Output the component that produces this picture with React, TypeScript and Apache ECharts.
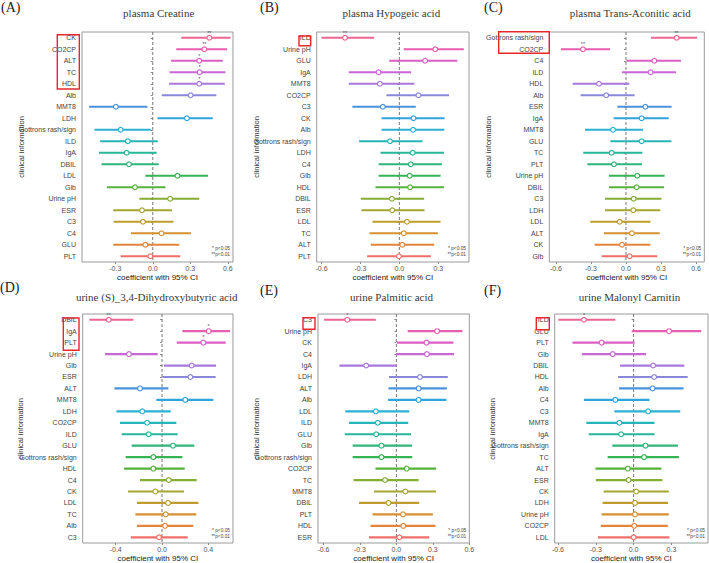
import React, { useEffect, useRef } from "react";
import * as echarts from "echarts";

// ---------- Data (top row to bottom row of each panel) ----------
const labelsA = ["CK", "CO2CP", "ALT", "TC", "HDL", "Alb", "MMT8", "LDH", "Gottrons rash/sign", "ILD", "IgA", "DBIL", "LDL", "Glb", "Urine pH", "ESR", "C3", "C4", "GLU", "PLT"];
const estA = [0.453, 0.413, 0.372, 0.375, 0.372, 0.303, -0.295, 0.273, -0.257, -0.2, -0.209, -0.19, 0.198, -0.142, 0.139, -0.086, -0.078, 0.07, -0.059, -0.019];
const loA = [0.228, 0.188, 0.147, 0.134, 0.131, 0.072, -0.509, 0.038, -0.466, -0.42, -0.43, -0.41, -0.059, -0.367, -0.107, -0.316, -0.313, -0.174, -0.316, -0.257];
const hiA = [0.622, 0.595, 0.56, 0.581, 0.576, 0.509, -0.043, 0.48, -0.016, 0.04, 0.032, 0.048, 0.442, 0.102, 0.372, 0.153, 0.166, 0.305, 0.212, 0.22];
const sigA = ["**", "**", "*", "*", "*", "", "", "", "", "", "", "", "", "", "", "", "", "", "", ""];

const labelsB = ["ILD", "Urine pH", "GLU", "IgA", "MMT8", "CO2CP", "C3", "CK", "Alb", "Gottrons rash/sign", "LDH", "C4", "Glb", "HDL", "DBIL", "ESR", "LDL", "TC", "ALT", "PLT"];
const estB = [-0.419, 0.277, 0.199, -0.16, -0.15, 0.147, -0.127, 0.109, 0.106, -0.072, 0.103, 0.088, 0.08, 0.083, -0.057, -0.054, 0.059, 0.034, 0.023, -0.003];
const loB = [-0.6, 0.034, -0.078, -0.39, -0.39, -0.1, -0.362, -0.137, -0.137, -0.31, -0.145, -0.16, -0.16, -0.184, -0.297, -0.292, -0.207, -0.23, -0.22, -0.248];
const hiB = [-0.194, 0.497, 0.447, 0.09, 0.116, 0.383, 0.127, 0.349, 0.347, 0.178, 0.344, 0.328, 0.318, 0.344, 0.191, 0.194, 0.318, 0.297, 0.269, 0.243];
const sigB = ["**", "", "", "", "", "", "", "", "", "", "", "", "", "", "", "", "", "", "", ""];

const labelsC = ["Gottrons rash/sign", "CO2CP", "C4", "ILD", "HDL", "Alb", "ESR", "IgA", "MMT8", "GLU", "TC", "PLT", "Urine pH", "DBIL", "C3", "LDH", "LDL", "ALT", "CK", "Glb"];
const estC = [0.434, -0.369, 0.243, 0.211, -0.231, -0.169, 0.166, 0.134, -0.111, 0.134, -0.123, -0.103, 0.097, 0.091, 0.066, 0.063, -0.054, 0.051, -0.034, 0.031];
const loC = [0.214, -0.557, 0.003, -0.034, -0.457, -0.389, -0.074, -0.106, -0.351, -0.134, -0.366, -0.331, -0.146, -0.146, -0.18, -0.18, -0.306, -0.189, -0.269, -0.209];
const hiC = [0.609, -0.137, 0.471, 0.429, 0.029, 0.074, 0.391, 0.366, 0.146, 0.389, 0.14, 0.137, 0.331, 0.326, 0.303, 0.294, 0.209, 0.289, 0.209, 0.269];
const sigC = ["**", "**", "", "", "", "", "", "", "", "", "", "", "", "", "", "", "", "", "", ""];

const labelsD = ["DBIL", "IgA", "PLT", "Urine pH", "Glb", "ESR", "ALT", "MMT8", "LDH", "CO2CP", "ILD", "GLU", "Gottrons rash/sign", "HDL", "C4", "CK", "LDL", "TC", "Alb", "C3"];
const estD = [-0.46, 0.403, 0.357, -0.285, 0.256, 0.245, -0.19, 0.201, -0.17, -0.129, -0.115, 0.095, -0.075, -0.075, 0.058, -0.058, 0.052, 0.032, 0.026, -0.026];
const loD = [-0.627, 0.176, 0.127, -0.492, 0.017, 0.003, -0.411, -0.049, -0.394, -0.363, -0.348, -0.262, -0.314, -0.328, -0.19, -0.294, -0.216, -0.23, -0.216, -0.27];
const hiD = [-0.247, 0.587, 0.55, -0.037, 0.466, 0.463, 0.055, 0.443, 0.075, 0.124, 0.135, 0.279, 0.176, 0.196, 0.299, 0.19, 0.314, 0.296, 0.27, 0.222];
const sigD = ["**", "*", "*", "", "", "", "", "", "", "", "", "", "", "", "", "", "", "", "", ""];

const labelsE = ["C3", "Urine pH", "CK", "C4", "IgA", "LDH", "ALT", "Alb", "LDL", "ILD", "GLU", "Glb", "Gottrons rash/sign", "CO2CP", "TC", "MMT8", "DBIL", "PLT", "HDL", "ESR"];
const estE = [-0.404, 0.335, 0.248, 0.251, -0.248, 0.194, 0.183, 0.183, -0.169, -0.153, -0.166, -0.123, -0.123, 0.085, -0.093, 0.074, -0.065, 0.055, 0.057, 0.025];
const loE = [-0.595, 0.093, 0.005, -0.003, -0.469, -0.06, -0.065, -0.068, -0.42, -0.39, -0.425, -0.36, -0.36, -0.172, -0.352, -0.185, -0.308, -0.196, -0.213, -0.226];
const hiE = [-0.169, 0.543, 0.469, 0.475, 0.003, 0.423, 0.415, 0.412, 0.106, 0.098, 0.12, 0.128, 0.131, 0.327, 0.183, 0.325, 0.188, 0.3, 0.322, 0.27];
const sigE = ["*", "", "", "", "", "", "", "", "", "", "", "", "", "", "", "", "", "", "", ""];

const labelsF = ["ILD", "GLU", "PLT", "Glb", "DBIL", "HDL", "Alb", "C4", "C3", "MMT8", "IgA", "Gottrons rash/sign", "TC", "ALT", "ESR", "CK", "LDH", "Urine pH", "CO2CP", "LDL"];
const estF = [-0.394, 0.281, -0.254, -0.166, 0.155, 0.163, 0.15, -0.145, 0.115, -0.113, -0.099, 0.094, 0.083, -0.046, -0.04, 0.021, 0.011, 0.011, 0.005, 0.0];
const loF = [-0.597, -0.011, -0.485, -0.41, -0.107, -0.123, -0.115, -0.394, -0.153, -0.375, -0.356, -0.169, -0.206, -0.303, -0.3, -0.238, -0.246, -0.254, -0.26, -0.284];
const hiF = [-0.145, 0.536, 0.008, 0.099, 0.402, 0.429, 0.396, 0.126, 0.37, 0.166, 0.166, 0.351, 0.359, 0.22, 0.228, 0.279, 0.273, 0.279, 0.271, 0.284];
const sigF = ["*", "", "", "", "", "", "", "", "", "", "", "", "", "", "", "", "", "", "", ""];

const titles = [
  "plasma Creatine",
  "plasma Hypogeic acid",
  "plasma Trans-Aconitic acid",
  "urine (S)_3,4-Dihydroxybutyric acid",
  "urine Palmitic acid",
  "urine Malonyl Carnitin",
];
const panelTags = ["(A)", "(B)", "(C)", "(D)", "(E)", "(F)"];
const ticksA = [-0.3, 0, 0.3, 0.6];
const ticksB = [-0.6, -0.3, 0, 0.3];
const ticksC = [-0.6, -0.3, 0, 0.3, 0.6];
const ticksD = [-0.4, 0, 0.4];
const ticksE = [-0.6, -0.3, 0, 0.3, 0.6];
const ticksF = [-0.6, -0.3, 0, 0.3];

// row colours, top row to bottom row
const palette = [
  "#EC6690", "#E85EAE", "#DC5EC4", "#C866D4", "#A977DB", "#8A87DB", "#4A93DC", "#2EA5DE", "#2AB1D3", "#26B5B8",
  "#26B69A", "#2EB57A", "#37B353", "#55B23A", "#86AD35", "#A5A531", "#BE9C2E", "#D5922F", "#E5843A", "#EE6F69",
];

// ---------- layout ----------
const layout = [
  { left: 82, width: 151, top: 32, height: 230, min: -0.566, max: 0.642 },
  { left: 316.7, width: 152.3, top: 32, height: 230, min: -0.637, max: 0.537 },
  { left: 549.3, width: 155, top: 32, height: 230, min: -0.657, max: 0.671 },
  { left: 82.7, width: 150.3, top: 314, height: 230, min: -0.685, max: 0.613 },
  { left: 318, width: 151.3, top: 314, height: 230, min: -0.645, max: 0.6 },
  { left: 554.7, width: 153.3, top: 314, height: 230, min: -0.626, max: 0.59 },
];
const tagPos = [[1, 7], [260, 7], [484, 7], [0, 287], [260, 290], [484, 290]];
const titlePos = [[158.7, 13.3], [391.3, 13.3], [630.3, 12.5], [156.7, 297.3], [391.5, 297.3], [629.5, 297.3]];
const yNamePos = [[21.7, 147], [256.7, 147], [488.7, 147], [20.7, 429], [256.7, 429], [492.7, 429]];
const redBoxes = [
  [57.3, 34.7, 22, 54.3],
  [299, 36, 11.7, 9.7],
  [498.7, 31.7, 50.6, 21.6],
  [63.3, 318, 15.7, 32.3],
  [303, 317.7, 12, 11.6],
  [536.3, 317.7, 13, 12],
];

const FONT = "Liberation Sans";
const SERIF = "Liberation Serif";

export default function App() {
  const ref = useRef<HTMLDivElement>(null);

  useEffect(() => {
    if (!ref.current) return;
    const chart = echarts.init(ref.current, null, { renderer: "svg" });

    const panels = [
      { labels: labelsA, est: estA, lo: loA, hi: hiA, sig: sigA, ticks: ticksA },
      { labels: labelsB, est: estB, lo: loB, hi: hiB, sig: sigB, ticks: ticksB },
      { labels: labelsC, est: estC, lo: loC, hi: hiC, sig: sigC, ticks: ticksC },
      { labels: labelsD, est: estD, lo: loD, hi: hiD, sig: sigD, ticks: ticksD },
      { labels: labelsE, est: estE, lo: loE, hi: hiE, sig: sigE, ticks: ticksE },
      { labels: labelsF, est: estF, lo: loF, hi: hiF, sig: sigF, ticks: ticksF },
    ];

    const grids: any[] = [];
    const xAxes: any[] = [];
    const yAxes: any[] = [];
    const series: any[] = [];
    const graphics: any[] = [];

    panels.forEach((p, i) => {
      const L = layout[i];
      grids.push({
        left: L.left,
        top: L.top,
        width: L.width,
        height: L.height,
        show: true,
        borderColor: "#9a9a9a",
        borderWidth: 1,
        backgroundColor: "transparent",
      });
      xAxes.push({
        gridIndex: i,
        type: "value",
        min: L.min,
        max: L.max,
        splitLine: { show: false },
        axisLine: { show: false },
        axisTick: { show: true, customValues: p.ticks, length: 2, lineStyle: { color: "#8a8a8a" } },
        axisLabel: {
          customValues: p.ticks,
          fontSize: 7,
          color: "#555",
          margin: 3,
          fontFamily: FONT,
          formatter: (v: number) => v.toFixed(1),
        },
        name: "coefficient with 95% CI",
        nameLocation: "middle",
        nameGap: 11,
        nameTextStyle: { fontSize: 8, color: "#222", fontFamily: FONT, fontWeight: "normal" },
      });
      yAxes.push({
        gridIndex: i,
        type: "category",
        data: p.labels,
        inverse: true,
        axisLine: { show: false },
        axisTick: { show: true, alignWithLabel: true, length: 2, lineStyle: { color: "#8a8a8a" } },
        axisLabel: { fontSize: 7, color: "#444", margin: 6, interval: 0, fontFamily: FONT },
        splitLine: { show: false },
      });

      // dashed zero reference line
      series.push({
        type: "custom",
        xAxisIndex: i,
        yAxisIndex: i,
        silent: true,
        z: 1,
        data: [[0, 0]],
        renderItem: (params: any, api: any) => {
          const cs = params.coordSys;
          const x = api.coord([0, 0])[0];
          return {
            type: "line",
            shape: { x1: x, y1: cs.y, x2: x, y2: cs.y + cs.height },
            style: { stroke: "#777", lineWidth: 1, lineDash: [3, 2] },
          };
        },
      });

      // forest rows
      const rows = p.labels.map((_, r) => [p.est[r], r, p.lo[r], p.hi[r]]);
      series.push({
        type: "custom",
        xAxisIndex: i,
        yAxisIndex: i,
        silent: true,
        z: 2,
        encode: { x: [0, 2, 3], y: 1 },
        data: rows,
        renderItem: (params: any, api: any) => {
          const r = params.dataIndex;
          const color = palette[r];
          const pe = api.coord([api.value(0), r]);
          const pl = api.coord([api.value(2), r]);
          const ph = api.coord([api.value(3), r]);
          const children: any[] = [
            {
              type: "line",
              shape: { x1: pl[0], y1: pe[1], x2: ph[0], y2: pe[1] },
              style: { stroke: color, lineWidth: 2.2 },
            },
            {
              type: "circle",
              shape: { cx: pe[0], cy: pe[1], r: 2.4 },
              style: { fill: "#fff", stroke: color, lineWidth: 1.2 },
            },
          ];
          if (p.sig[r]) {
            children.push({
              type: "text",
              style: {
                text: p.sig[r],
                x: pe[0],
                y: pe[1] - 2.2,
                fontSize: 5.5,
                fill: "#555",
                align: "center",
                verticalAlign: "bottom",
                fontFamily: FONT,
              },
            });
          }
          return { type: "group", children };
        },
      });

      // panel tag, title, y-name, legend note, red highlight box
      graphics.push({
        type: "text",
        left: tagPos[i][0],
        top: tagPos[i][1] - 7,
        style: { text: panelTags[i], fontSize: 14, fontFamily: SERIF, fontWeight: "normal", fill: "#222" },
      });
      graphics.push({
        type: "text",
        x: titlePos[i][0],
        y: titlePos[i][1],
        style: {
          text: titles[i],
          fontSize: 11,
          fontFamily: SERIF,
          fontWeight: "normal",
          fill: "#3a3a3a",
          align: "center",
          verticalAlign: "middle",
        },
      });
      graphics.push({
        type: "text",
        x: yNamePos[i][0],
        y: yNamePos[i][1],
        rotation: Math.PI / 2,
        style: {
          text: "clinical information",
          fontSize: 7.5,
          fontFamily: FONT,
          fontWeight: "normal",
          fill: "#333",
          align: "center",
          verticalAlign: "middle",
        },
      });
      graphics.push({
        type: "text",
        x: L.left + L.width - 3,
        y: L.top + L.height - 13.5,
        style: {
          text: "* p<0.05",
          fontSize: 4.8,
          fontFamily: FONT,
          fill: "#444",
          align: "right",
          verticalAlign: "middle",
        },
      });
      graphics.push({
        type: "text",
        x: L.left + L.width - 3,
        y: L.top + L.height - 7.7,
        style: {
          text: "**p<0.01",
          fontSize: 4.8,
          fontFamily: FONT,
          fill: "#444",
          align: "right",
          verticalAlign: "middle",
        },
      });
      const b = redBoxes[i];
      graphics.push({
        type: "rect",
        shape: { x: b[0], y: b[1], width: b[2], height: b[3] },
        style: { fill: "none", stroke: "#E8262B", lineWidth: 1.4 },
        z: 10,
      });
    });

    chart.setOption({
      animation: false,
      backgroundColor: "#fff",
      grid: grids,
      xAxis: xAxes,
      yAxis: yAxes,
      series,
      graphic: graphics,
    });

    return () => chart.dispose();
  }, []);

  return (
    <div
      ref={ref}
      style={{ position: "fixed", left: 0, top: 0, width: 709, height: 563, background: "#fff" }}
    />
  );
}
